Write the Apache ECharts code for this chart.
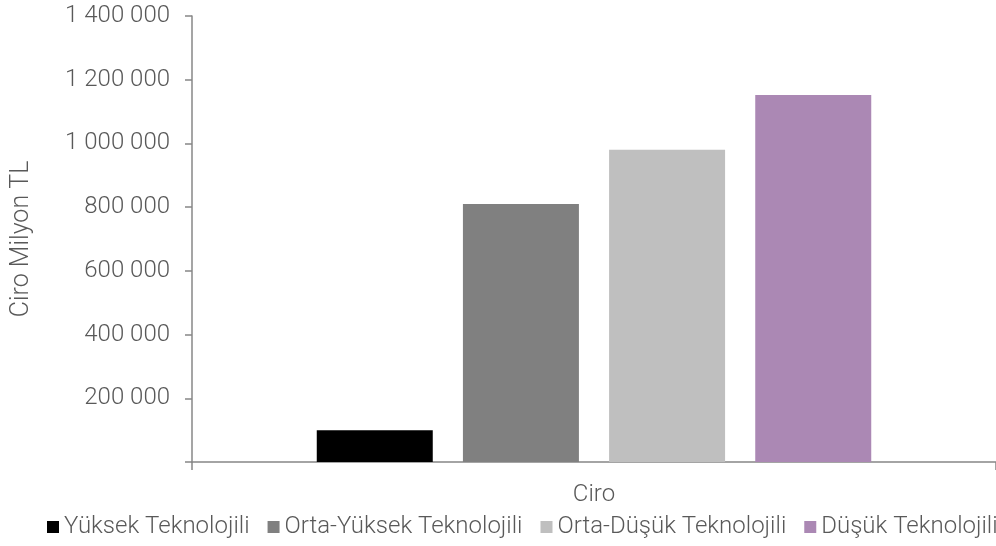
<!DOCTYPE html>
<html>
<head>
<meta charset="utf-8">
<script src="https://cdn.jsdelivr.net/npm/echarts@6/dist/echarts.min.js"></script>
<style>
html,body{margin:0;padding:0;background:#fff;}
#chart{width:996px;height:546px;}
</style>
</head>
<body>
<div id="chart"></div>
<script>
var categories = ['Ciro'];
var seriesNames = ['Yüksek Teknolojili', 'Orta-Yüksek Teknolojili', 'Orta-Düşük Teknolojili', 'Düşük Teknolojili'];
var seriesValues = [[100000], [810000], [980000], [1152000]];
var seriesColors = ['#000000', '#808080', '#bfbfbf', '#ab88b4'];
var yAxisName = 'Ciro Milyon TL';

var FONT = 'Roboto';
var TXT = '#595959';
var AX = '#878787';
var FS = 24;

var chart = echarts.init(document.getElementById('chart'), null, {renderer: 'canvas'});
var series = seriesNames.map(function (n, i) {
  return {
    name: n,
    type: 'bar',
    data: seriesValues[i],
    itemStyle: {color: seriesColors[i]},
    barWidth: 116,
    barGap: '26%'
  };
});
chart.setOption({
  animation: false,
  textStyle: {fontFamily: FONT, fontWeight: 300},
  grid: {left: 192, right: 0, top: 16, bottom: 84, containLabel: false},
  legend: {
    data: seriesNames,
    left: 42,
    width: 960,
    bottom: 2,
    icon: 'rect',
    itemWidth: 12,
    itemHeight: 12,
    itemGap: 18,
    textStyle: {color: TXT, fontSize: FS, fontFamily: FONT, fontWeight: 300}
  },
  xAxis: {
    type: 'category',
    data: categories,
    axisLine: {lineStyle: {color: AX, width: 1.5}},
    axisTick: {show: true, length: 8, lineStyle: {color: AX, width: 1.5}},
    axisLabel: {color: TXT, fontSize: FS, fontFamily: FONT, fontWeight: 300, margin: 21}
  },
  yAxis: {
    type: 'value',
    min: 0,
    max: 1400000,
    interval: 200000,
    name: yAxisName,
    nameLocation: 'middle',
    nameGap: 158,
    nameTextStyle: {color: TXT, fontSize: 25, fontFamily: FONT, fontWeight: 300},
    axisLine: {show: true, lineStyle: {color: AX, width: 1.5}},
    axisTick: {show: true, length: 7, lineStyle: {color: AX, width: 1.5}},
    splitLine: {show: false},
    axisLabel: {
      color: TXT, fontSize: FS, fontFamily: FONT, fontWeight: 300, margin: 22,
      formatter: function (v) {
        if (v === 0) return '';
        return String(v).replace(/\B(?=(\d{3})+(?!\d))/g, ' ');
      }
    }
  },
  series: series
});
</script>
</body>
</html>
